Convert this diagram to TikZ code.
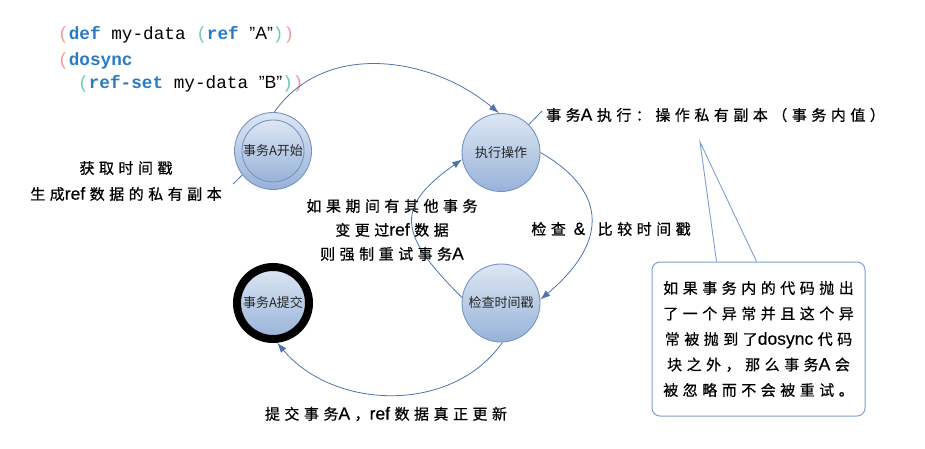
\documentclass[tikz,border=0pt]{standalone}
\usepackage{fontspec}
\setmainfont{Liberation Sans}
\setmonofont{Liberation Mono}
\newfontfamily\cjk{Noto Sans CJK SC}
\newfontfamily\cjknote[LetterSpace=30, FakeBold=0.6]{Noto Sans CJK SC}
\newfontfamily\latnote[FakeBold=0.4]{Liberation Sans}
\newcommand\lat[1]{{\latnote\fontsize{17.5}{24}\selectfont #1}\hspace{4.5pt}}
\usetikzlibrary{arrows.meta,positioning,calc}
\definecolor{nodetop}{HTML}{DDE7F3}
\definecolor{nodebot}{HTML}{97B2D8}
\definecolor{nodeline}{HTML}{7693C4}
\definecolor{arrowcol}{HTML}{4F74A8}
\definecolor{boxline}{HTML}{7DA0D0}
\definecolor{kwblue}{HTML}{2A7BC4}
\definecolor{parpink}{HTML}{F29A9A}
\definecolor{parteal}{HTML}{6CCBB8}

\begin{document}
\begin{tikzpicture}[x=1pt, y=1pt,
    state/.style={circle, draw=nodeline, line width=0.9pt, top color=nodetop, bottom color=nodebot,
      minimum size=78pt, inner sep=0pt, font=\cjk\fontsize{13}{15}\selectfont, text=black!85},
    note/.style={font=\cjknote\fontsize{15}{24}\selectfont, align=center, inner sep=0pt},
    code/.style={font=\ttfamily\fontsize{17.7}{20}\selectfont, anchor=west, inner sep=0pt},
    link/.style={draw=arrowcol, line width=0.8pt},
    >={Latex[length=10pt,width=7pt]}
  ]
  \useasboundingbox (0,0) rectangle (925,448);

  % code
  \node[code] (line1) at (58,413) {\textcolor{parpink}{(}\textcolor{kwblue}{\textbf{def}} my-data \textcolor{parteal}{(}\textcolor{kwblue}{\textbf{ref}} {\rmfamily ”A”}\textcolor{parteal}{)}\textcolor{parpink}{)}};
  \node[code] (line2) at (58,387) {\textcolor{parpink}{(}\textcolor{kwblue}{\textbf{dosync}}};
  \node[code] (line3) at (78,364) {\textcolor{parteal}{(}\textcolor{kwblue}{\textbf{ref-set}} my-data {\rmfamily ”B”}\textcolor{parteal}{)}\textcolor{parpink}{)}};

  % states
  \node[state, minimum size=77pt] (start) at (273,297) {};
  \node[state, minimum size=62pt] (startin) at (start) {事务A开始};
  \node[state] (exec) at (501,295.5) {执行操作};
  \node[state] (check) at (501,145) {检查时间戳};
  \node[state, draw=black, line width=8pt, minimum size=72pt] (commit) at (273,145) {事务A提交};

  % transitions
  \draw[link,->] (start.88) to[out=55, in=140] (exec.93);
  \draw[link,->] (exec.0) to[out=-30, in=40, looseness=1.45] (check.5);
  \draw[link,->] (check.172) to[out=135, in=215, looseness=1.6] (exec.190);
  \draw[link,->] (check.-88) to[out=-125, in=-50] (commit.-84);

  % notes
  \node[note] (fetch) at (126,280) {获取时间戳};
  \node[note] (copy) at (126,254) {生成\lat{ref}数据的私有副本};
  \coordinate (copyend) at (233,264);
  \draw[link] (start.218) -- (copyend);

  \node[note, anchor=west] (execnote) at (546,333) {事务\lat{A}执行：操作私有副本（事务内值）};
  \coordinate (execend) at (542,337);
  \draw[link] (exec.45) -- (execend);

  \node[note] (retry) at (392,218) {如果期间有其他事务\\变更过\lat{ref}数据\\则强制重试事务\lat{A}};
  \node[note] (compare) at (611,219) {检查 \lat{\&} 比较时间戳};
  \node[note] (commitnote) at (386,34) {提交事务\lat{A}，\lat{ref}数据真正更新};

  % callout
  \node[draw=boxline, line width=1pt, rounded corners=8pt, minimum width=213pt, minimum height=154pt,
    font=\cjknote\fontsize{15}{25.5}\selectfont, align=center, inner sep=0pt] (box) at (758.5,109)
    {如果事务内的代码抛出\\了一个异常并且这个异\\常被抛到了\lat{dosync}代码\\块之外，那么事务\lat{A}会\\被忽略而不会被重试。};
  \coordinate (tip) at (700,306);
  \draw[draw=boxline, line width=0.9pt] ([xshift=65pt]box.north west) -- (tip) -- ([xshift=105pt]box.north west);
\end{tikzpicture}
\end{document}
